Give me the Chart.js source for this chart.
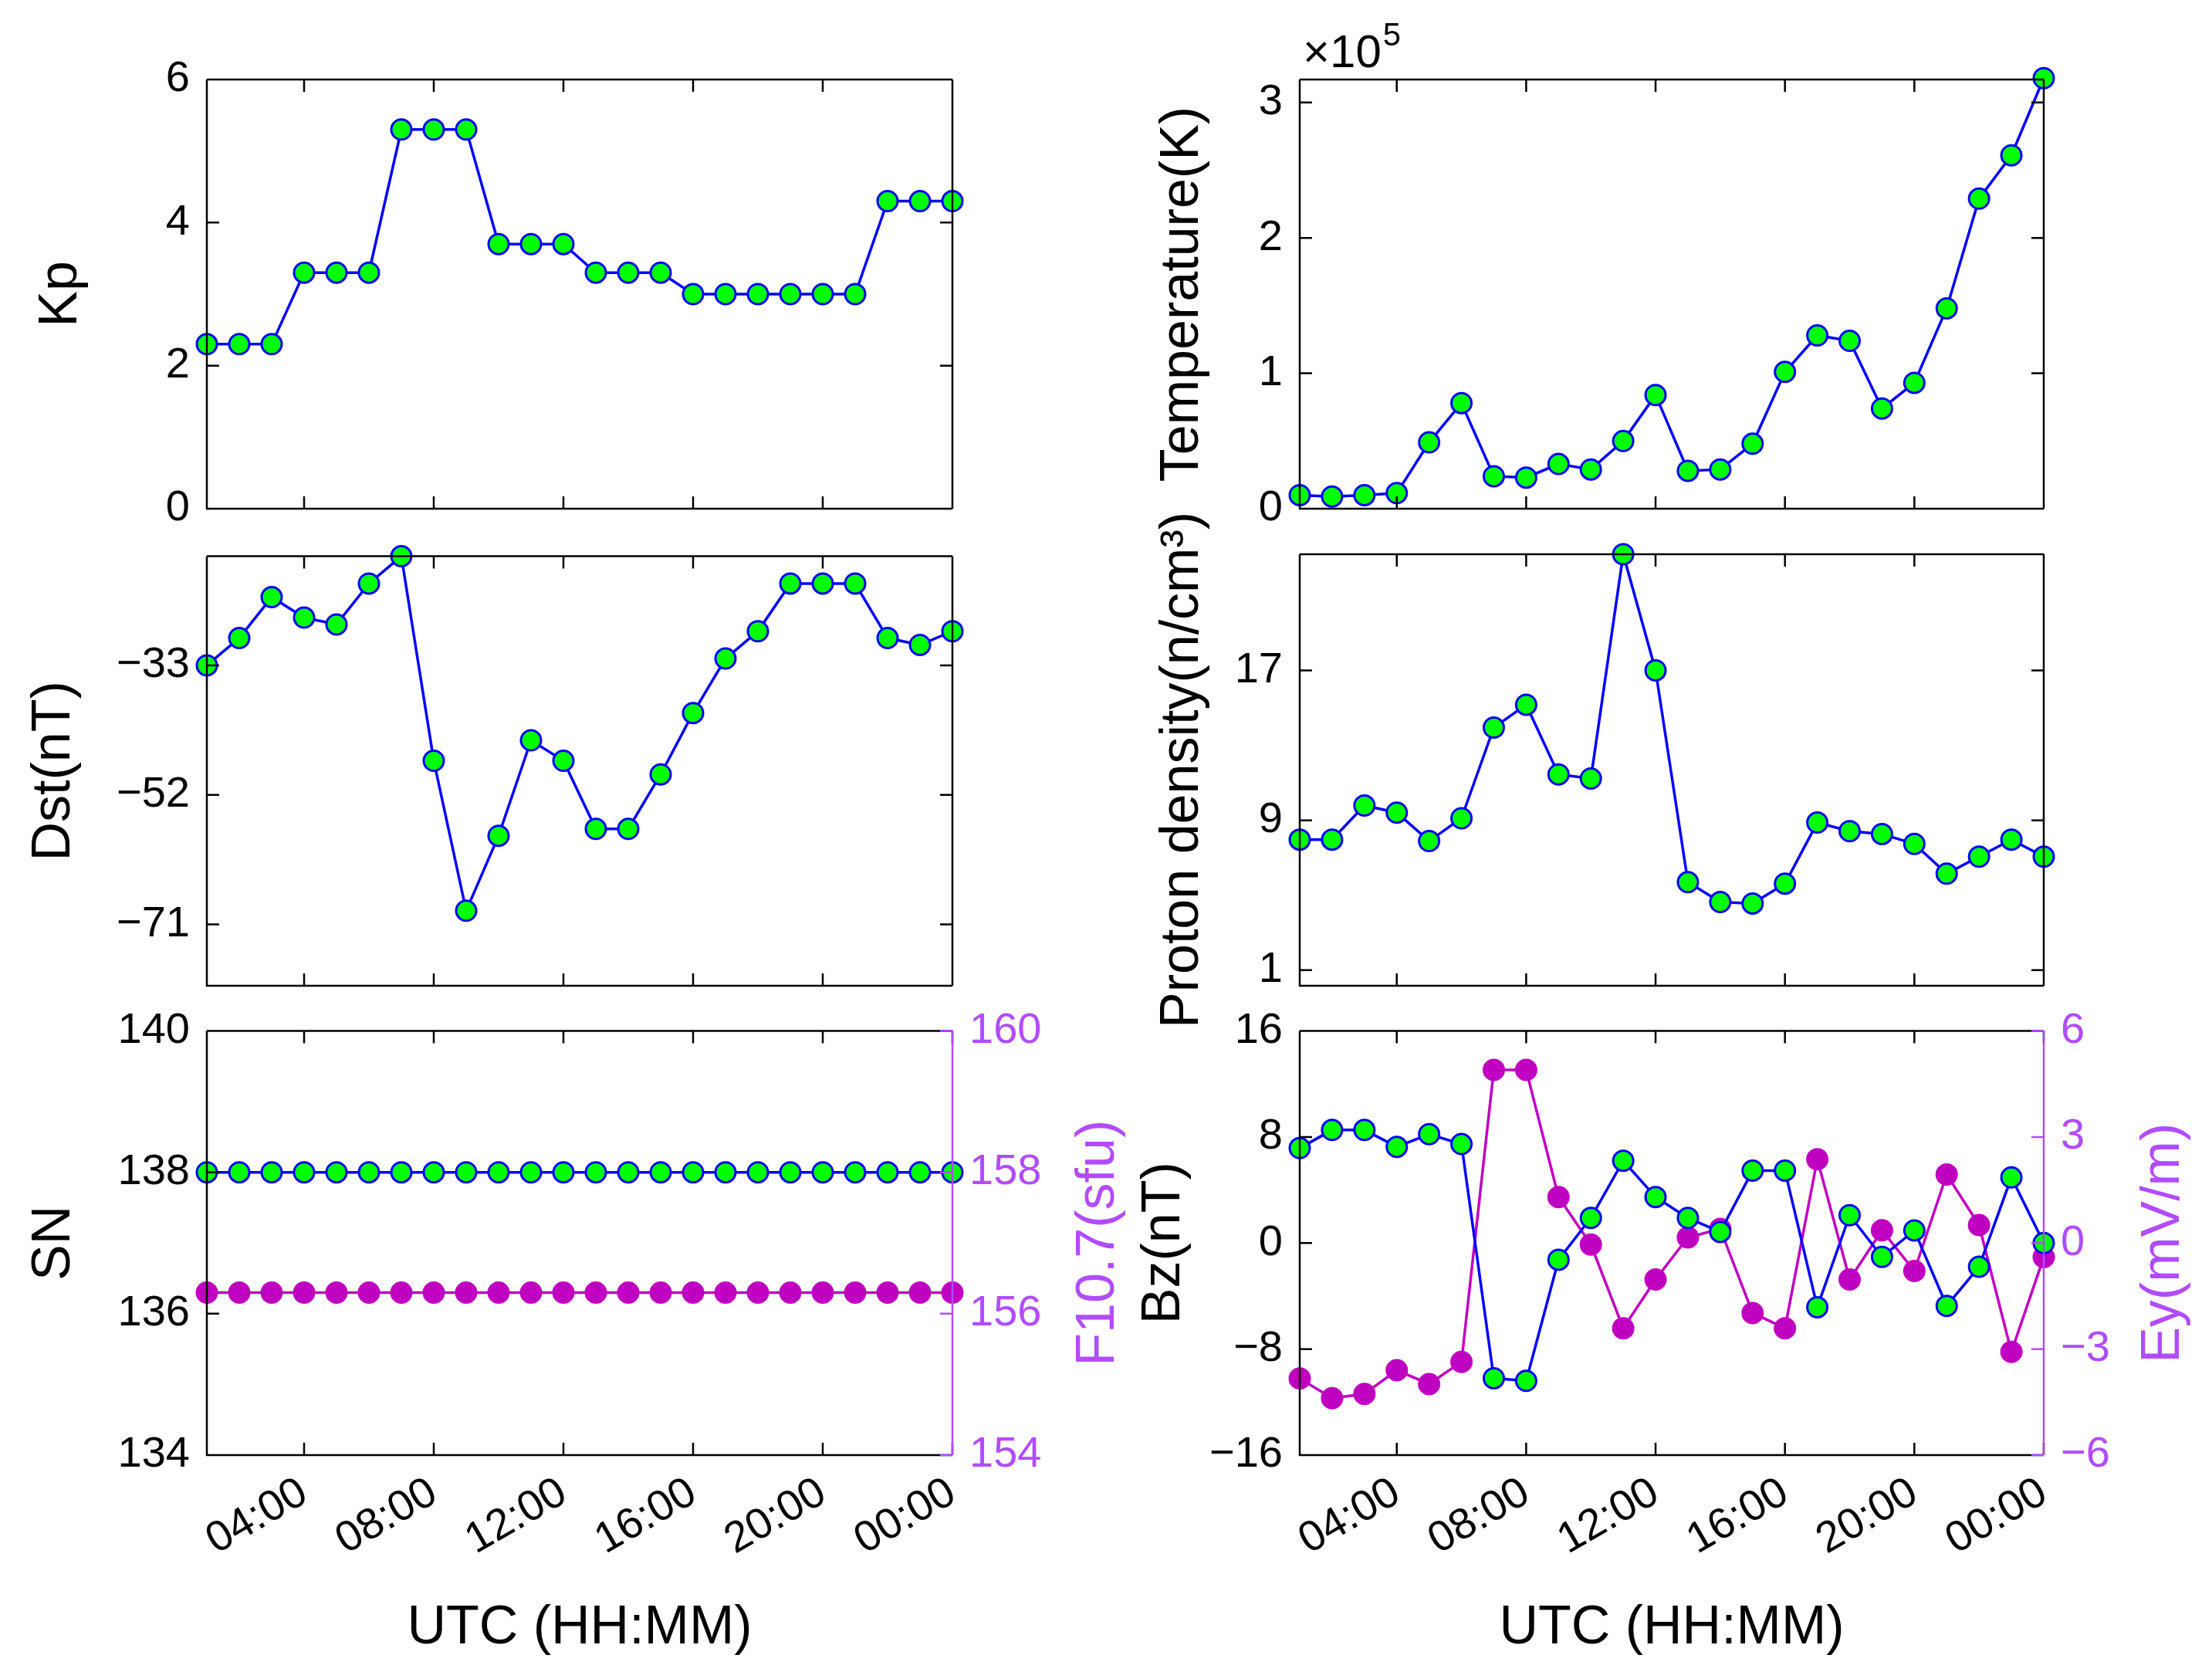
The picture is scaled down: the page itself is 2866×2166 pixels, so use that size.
<!DOCTYPE html>
<html><head><meta charset="utf-8">
<script src="https://cdn.jsdelivr.net/npm/chart.js@4"></script>
<style>body{margin:0;background:#fff;width:2866px;height:2166px;position:relative;overflow:hidden}
.c{position:absolute}</style></head><body>
<script>
const hours=[1,2,3,4,5,6,7,8,9,10,11,12,13,14,15,16,17,18,19,20,21,22,23,24];
const xTicks=[4,8,12,16,20,24];
const kp=[2.3,2.3,2.3,3.3,3.3,3.3,5.3,5.3,5.3,3.7,3.7,3.7,3.3,3.3,3.3,3.0,3.0,3.0,3.0,3.0,3.0,4.3,4.3,4.3];
const dst=[-33,-29,-23,-26,-27,-21,-17,-47,-69,-58,-44,-47,-57,-57,-49,-40,-32,-28,-21,-21,-21,-29,-30,-28];
const sn=[138,138,138,138,138,138,138,138,138,138,138,138,138,138,138,138,138,138,138,138,138,138,138,138];
const f107=[156.3,156.3,156.3,156.3,156.3,156.3,156.3,156.3,156.3,156.3,156.3,156.3,156.3,156.3,156.3,156.3,156.3,156.3,156.3,156.3,156.3,156.3,156.3,156.3];
const tempE5=[0.10,0.09,0.10,0.115,0.49,0.78,0.24,0.23,0.33,0.29,0.50,0.84,0.28,0.29,0.48,1.01,1.28,1.24,0.74,0.93,1.48,2.29,2.61,3.18];
const density=[7.97,7.97,9.79,9.41,7.89,9.11,13.95,15.17,11.45,11.23,23.2,17.0,5.7,4.64,4.56,5.62,8.88,8.42,8.27,7.74,6.15,7.06,7.97,7.06];
const bz=[7.16,8.53,8.53,7.26,8.21,7.47,-10.2,-10.4,-1.26,1.89,6.21,3.47,1.89,0.84,5.47,5.47,-4.84,2.1,-1.05,0.95,-4.74,-1.79,4.95,0];
const ey=[-3.83,-4.39,-4.27,-3.6,-3.99,-3.36,4.9,4.9,1.3,-0.04,-2.41,-1.03,0.16,0.4,-1.98,-2.41,2.37,-1.03,0.36,-0.79,1.94,0.51,-3.08,-0.4];

const FONT='"Liberation Sans", Arial, sans-serif';
const PURPLE='#b14cff', MAG='#c000c0', BLUE='#0000ff', GREEN='#00ff00';
const TICK=56, TITLE=70;
Chart.defaults.font.family=FONT;
Chart.defaults.color='#000';
const fmt=v=>String(v).replace('-','\u2212');
const pts=a=>a.map((v,i)=>({x:hours[i],y:v}));

const boxPlugin={id:'box',afterDraw(ch){
  const c=ch.ctx,a=ch.chartArea,L=16;c.save();c.lineWidth=2.5;
  const hasY2=!!ch.scales.y2;
  c.strokeStyle='#000';
  c.beginPath();c.moveTo(a.left,a.top);c.lineTo(a.right,a.top);
  c.moveTo(a.left,a.top);c.lineTo(a.left,a.bottom);c.lineTo(a.right,a.bottom);
  if(!hasY2){c.moveTo(a.right,a.top);c.lineTo(a.right,a.bottom);}
  ch.scales.x.ticks.forEach(t=>{const p=ch.scales.x.getPixelForValue(t.value);
    c.moveTo(p,a.bottom);c.lineTo(p,a.bottom-L);c.moveTo(p,a.top);c.lineTo(p,a.top+L);});
  ch.scales.y.ticks.forEach(t=>{const p=ch.scales.y.getPixelForValue(t.value);
    c.moveTo(a.left,p);c.lineTo(a.left+L,p);if(!hasY2){c.moveTo(a.right,p);c.lineTo(a.right-L,p);}});
  c.stroke();
  const ex=ch.options.plugins.extra||{};
  if(hasY2){c.strokeStyle=PURPLE;c.beginPath();c.moveTo(a.right,a.top);c.lineTo(a.right,a.bottom);
    ch.scales.y2.ticks.forEach(t=>{const p=ch.scales.y2.getPixelForValue(t.value);c.moveTo(a.right,p);c.lineTo(a.right-L,p);});c.stroke();
    c.save();c.translate(ex.y2x,(a.top+a.bottom)/2);c.rotate(-Math.PI/2);c.fillStyle=PURPLE;
    c.font=TITLE+'px '+FONT;c.textAlign='center';c.textBaseline='middle';c.fillText(ex.y2title,0,0);c.restore();}
  if(ex.expo){c.fillStyle='#000';c.font='60px '+FONT;c.textBaseline='alphabetic';
    c.fillText('\u00d710',a.left+4,a.top-16);const w=c.measureText('\u00d710').width;c.font='42px '+FONT;c.fillText('5',a.left+4+w+2,a.top-44);}
  c.restore();}};

function make(o){
  const d=document.createElement('div');d.className='c';
  Object.assign(d.style,{left:o.left+'px',top:o.top+'px',width:o.w+'px',height:o.h+'px'});
  const cv=document.createElement('canvas');d.appendChild(cv);document.body.appendChild(d);
  const ds=[{data:pts(o.d1),yAxisID:'y',borderColor:BLUE,borderWidth:3.5,pointBackgroundColor:GREEN,pointBorderColor:BLUE,pointBorderWidth:3,pointRadius:13,clip:false}];
  if(o.d2)ds.push({data:pts(o.d2),yAxisID:'y2',borderColor:MAG,borderWidth:3.5,pointBackgroundColor:MAG,pointBorderColor:MAG,pointBorderWidth:3,pointRadius:13,clip:false});
  const scales={
    x:{type:'linear',min:1,max:24,grid:{display:false},border:{display:false},
      afterBuildTicks:s=>{s.ticks=xTicks.map(v=>({value:v}));},
      afterFit:s=>{s.height=o.xh;},
      ticks:{display:o.xlab,maxRotation:30,minRotation:30,padding:8,font:{size:TICK},color:'#000',
        callback:v=>String(v%24).padStart(2,'0')+':00'},
      title:{display:o.xlab,text:'UTC (HH:MM)',font:{size:TITLE},color:'#000',padding:{top:4,bottom:14}}},
    y:{position:'left',min:o.y.min,max:o.y.max,grid:{display:false},border:{display:false},
      afterBuildTicks:s=>{s.ticks=o.y.ticks.map(v=>({value:v}));},
      afterFit:s=>{s.width=o.yw;},
      ticks:{padding:14,font:{size:TICK},color:'#000',callback:fmt},
      title:{display:true,text:o.y.title,font:{size:TITLE},color:'#000',padding:{top:o.y.tp,bottom:0}}}};
  if(o.y2)scales.y2={position:'right',min:o.y2.min,max:o.y2.max,grid:{display:false},border:{display:false},
      afterBuildTicks:s=>{s.ticks=o.y2.ticks.map(v=>({value:v}));},
      afterFit:s=>{s.width=o.y2w;},
      ticks:{padding:14,font:{size:TICK},color:PURPLE,callback:fmt}};
  new Chart(cv,{type:'line',data:{datasets:ds},plugins:[boxPlugin],
    options:{responsive:true,maintainAspectRatio:false,animation:false,
      layout:{padding:{top:o.pt,right:o.y2?0:o.pr,left:0,bottom:0}},
      plugins:{legend:{display:false},tooltip:{enabled:false},extra:{expo:o.expo,y2title:o.y2&&o.y2.title,y2x:o.y2x}},scales}});
}
const L={left:0,w:1470,yw:268,pr:236,y2w:236,y2x:1424};
const R={left:1434,w:1432,yw:250,pr:218,y2w:218,y2x:1370};
make({...L,top:0,h:719,pt:103,xh:60,xlab:false,d1:kp,y:{min:0,max:6,ticks:[0,2,4,6],title:'Kp',tp:38}});
make({...L,top:673,h:664,pt:28,xh:60,xlab:false,d1:dst,y:{min:-80,max:-17,ticks:[-71,-52,-33],title:'Dst(nT)',tp:29}});
make({...L,top:1288,h:878,pt:27,xh:281,xlab:true,d1:sn,d2:f107,y:{min:134,max:140,ticks:[134,136,138,140],title:'SN',tp:29},y2:{min:154,max:160,ticks:[154,156,158,160],title:'F10.7(sfu)'}});
make({...R,top:0,h:719,pt:103,xh:60,xlab:false,expo:true,d1:tempE5,y:{min:0,max:3.17,ticks:[0,1,2,3],title:'Temperature(K)',tp:57}});
make({...R,top:573,h:864,pt:145,xh:160,xlab:false,d1:density,y:{min:0.17,max:23.2,ticks:[1,9,17],title:'Proton density(n/cm\u00b3)',tp:57}});
make({...R,top:1288,h:878,pt:27,xh:281,xlab:true,d1:bz,d2:ey,y:{min:-16,max:16,ticks:[-16,-8,0,8,16],title:'Bz(nT)',tp:33},y2:{min:-6,max:6,ticks:[-6,-3,0,3,6],title:'Ey(mV/m)'}});
</script></body></html>
